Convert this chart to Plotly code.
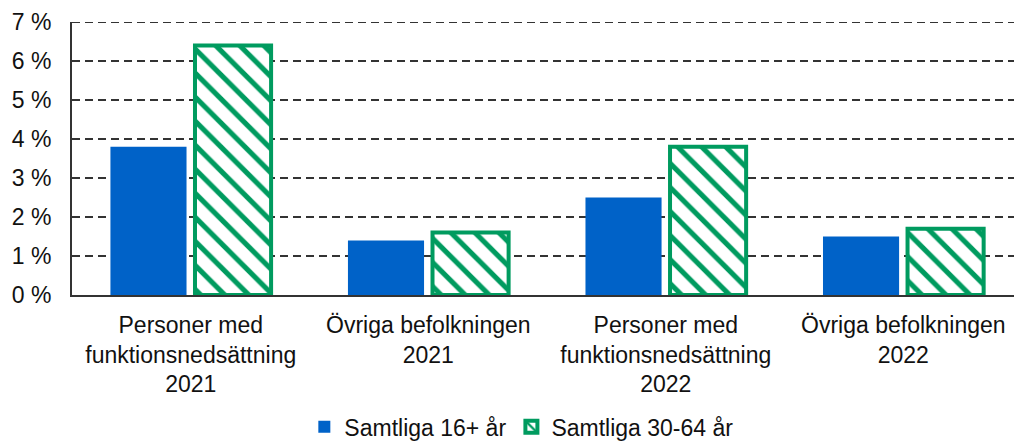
import plotly.graph_objects as go

categories = ["Personer med<br>funktionsnedsättning<br>2021", "Övriga befolkningen<br>2021",
              "Personer med<br>funktionsnedsättning<br>2022", "Övriga befolkningen<br>2022"]
series_16 = [3.8, 1.4, 2.5, 1.5]
series_30_64 = [6.4, 1.6, 3.8, 1.7]
tick_vals = [0, 1, 2, 3, 4, 5, 6, 7]
tick_text = [f"{v} %" for v in tick_vals]

blue = "#0062C8"
green = "#009B5F"
grid = "#333333"

fig = go.Figure()
fig.add_trace(go.Bar(x=categories, y=series_16, name="Samtliga 16+ år",
                     marker=dict(color=blue, line=dict(width=0))))
fig.add_trace(go.Bar(x=categories, y=series_30_64, name="Samtliga 30-64 år",
                     marker=dict(color="white", line=dict(color=green, width=4),
                                 pattern=dict(shape="\\", fgcolor=green, bgcolor="white",
                                              size=17, solidity=0.3))))

fig.update_layout(
    template="none",
    width=1014, height=441,
    margin=dict(l=72, r=0, t=22, b=146, autoexpand=False),
    plot_bgcolor="white", paper_bgcolor="white",
    font=dict(family="Liberation Sans, Arial, sans-serif", size=23, color="#111111"),
    barmode="group", bargap=0.288, bargroupgap=0.1,
    showlegend=True,
    legend=dict(orientation="h", x=0.477, xanchor="center", y=-0.483, yanchor="middle",
                font=dict(size=23), traceorder="normal", bgcolor="rgba(0,0,0,0)"),
    shapes=[dict(type="line", xref="paper", yref="y", x0=0, x1=1,
                 y0=tick_vals[-1], y1=tick_vals[-1],
                 line=dict(color=grid, width=2, dash="8px,5px"), layer="below")],
)
fig.update_yaxes(range=[0, 7], tickvals=tick_vals, ticktext=tick_text,
                 showgrid=True, gridcolor=grid, griddash="8px,5px", gridwidth=2,
                 showline=True, linecolor=grid, linewidth=2, ticks="",
                 zeroline=False, automargin=False, ticklabelstandoff=14)
fig.update_xaxes(range=[-0.5, 3.466], showline=True, linecolor=grid, linewidth=2, ticks="",
                 showgrid=False, automargin=False, ticklabelstandoff=8,
                 tickfont=dict(size=23))

fig.write_html("out.html", config={"displayModeBar": False},
               post_script="document.body.style.margin='0';document.body.style.overflow='hidden';")
